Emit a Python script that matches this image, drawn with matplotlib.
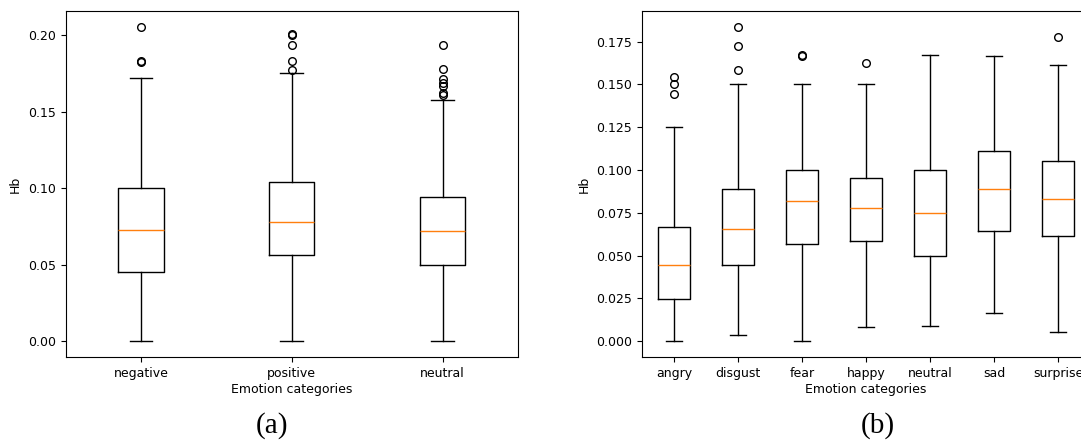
import matplotlib
matplotlib.use("Agg")
import matplotlib.pyplot as plt

# Data
# (a) three emotion groups
cats_a = ['negative', 'positive', 'neutral']
whislo_a = [0.0, 0.0, 0.0]
q1_a = [0.0455, 0.0565, 0.0497]
med_a = [0.0726, 0.0780, 0.0719]
q3_a = [0.1000, 0.1041, 0.0943]
whishi_a = [0.1719, 0.1753, 0.1580]
fliers_a = [
    [0.1826, 0.1833, 0.2057],
    [0.1776, 0.1830, 0.1940, 0.2000, 0.2007],
    [0.1612, 0.1625, 0.1667, 0.1689, 0.1714, 0.1778, 0.1940],
]

# (b) seven emotion categories
cats_b = ['angry', 'disgust', 'fear', 'happy', 'neutral', 'sad', 'surprise']
whislo_b = [0.0, 0.0038, 0.0, 0.0083, 0.0087, 0.0164, 0.0055]
q1_b = [0.0249, 0.0444, 0.0569, 0.0587, 0.0498, 0.0646, 0.0612]
med_b = [0.0444, 0.0654, 0.0820, 0.0778, 0.0751, 0.0891, 0.0830]
q3_b = [0.0666, 0.0891, 0.1000, 0.0956, 0.1000, 0.1110, 0.1055]
whishi_b = [0.1252, 0.1500, 0.1500, 0.1500, 0.1669, 0.1667, 0.1614]
fliers_b = [
    [0.1444, 0.1505, 0.1541],
    [0.1586, 0.1722, 0.1837],
    [0.1667, 0.1669],
    [0.1624],
    [],
    [],
    [0.1778],
]


def make_stats(cats, lo, q1, med, q3, hi, fl):
    stats = []
    for i in range(len(cats)):
        stats.append({'label': cats[i], 'whislo': lo[i], 'q1': q1[i], 'med': med[i],
                      'q3': q3[i], 'whishi': hi[i], 'fliers': fl[i]})
    return stats


W, H = 1081, 443
fig = plt.figure(figsize=(W / 100, H / 100), dpi=100)
plt.rcParams['font.size'] = 9

ax1 = fig.add_axes([65.5 / W, 1 - 357 / H, (518 - 65.5) / W, 346 / H])
ax2 = fig.add_axes([642 / W, 1 - 357 / H, (1090 - 642) / W, 346 / H])

flierprops = dict(markersize=5.5)
ax1.bxp(make_stats(cats_a, whislo_a, q1_a, med_a, q3_a, whishi_a, fliers_a),
        flierprops=flierprops)
ax2.bxp(make_stats(cats_b, whislo_b, q1_b, med_b, q3_b, whishi_b, fliers_b),
        flierprops=flierprops)

ax1.set_yticks([0.0, 0.05, 0.10, 0.15, 0.20])
ax2.set_yticks([0.0, 0.025, 0.05, 0.075, 0.1, 0.125, 0.15, 0.175])
ax2.yaxis.set_major_formatter(plt.FormatStrFormatter('%.3f'))
ax1.yaxis.set_major_formatter(plt.FormatStrFormatter('%.2f'))

for ax in (ax1, ax2):
    ax.set_xlabel('Emotion categories', fontsize=9, labelpad=2)
    ax.set_ylabel('Hb', fontsize=9)
    ax.tick_params(labelsize=9)

# Captions
fig.text(272 / W, 1 - 426 / H, '(a)', family='Liberation Serif', fontsize=21,
         ha='center', va='center')
fig.text(878 / W, 1 - 426 / H, '(b)', family='Liberation Serif', fontsize=21,
         ha='center', va='center')

fig.savefig('out.png', dpi=100)
